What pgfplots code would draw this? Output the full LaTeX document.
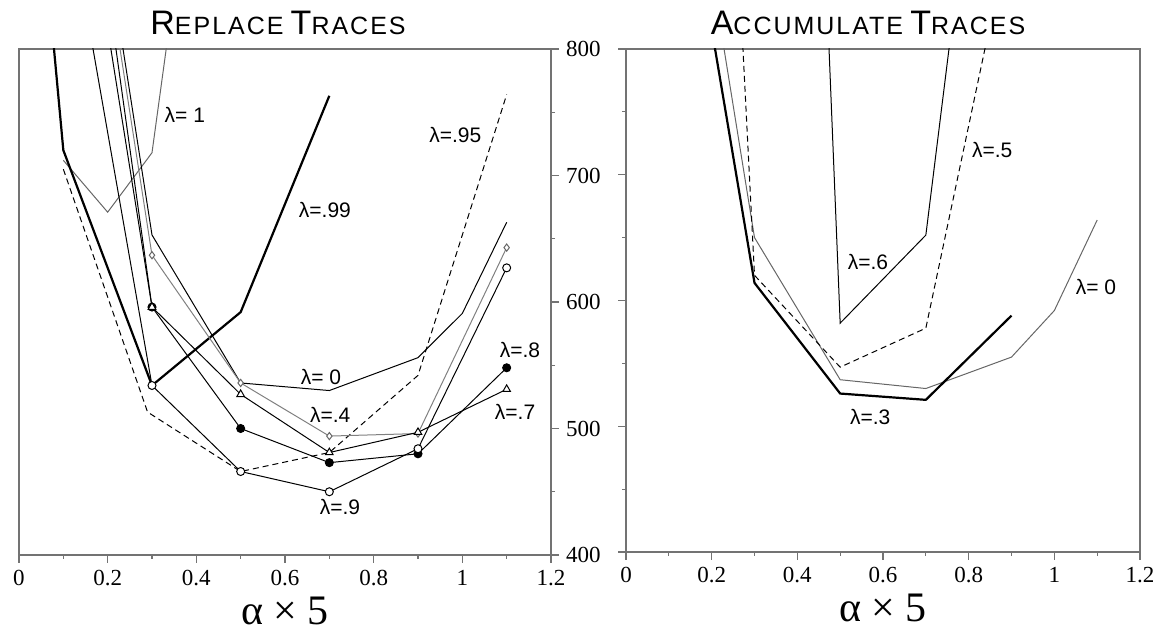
\documentclass[border=0pt]{standalone}
\usepackage{fontspec}
\setmainfont{Liberation Serif}
\newfontfamily\lsans{Liberation Sans}
\newfontfamily\tsans[LetterSpace=8]{Liberation Sans}
\usepackage{pgfplots}
\pgfplotsset{compat=1.18}

% small caps by hand: big first letter, smaller rest
\newcommand{\sct}[2]{{\fontsize{17}{17}\selectfont #1}{\fontsize{12.5}{12.5}\selectfont #2}}

\tikzset{
  lab/.style={font=\lsans\fontsize{10.5}{11}\selectfont, inner sep=0pt},
  trline/.style={black, line width=0.5pt},
}

\pgfplotsset{
  trace axis/.style={
    scale only axis,
    anchor=south west,
    xmin=0, xmax=1.2, ymin=400, ymax=800,
    xtick={0,0.2,0.4,0.6,0.8,1,1.2},
    ytick={400,500,600,700,800},
    minor x tick num=1, minor y tick num=1,
    tick align=outside,
    major tick length=4pt, minor tick length=2pt,
    axis line style={black!55, line width=0.6pt},
    every tick/.style={black!55, line width=0.6pt},
    /pgf/number format/assume math mode=true,
    ticklabel style={font=\fontsize{11.5}{12}\selectfont},
    xlabel={α × 5},
    xlabel style={at={(0.5,0)}, anchor=base, yshift=-35pt, inner sep=0pt,
      font=\fontsize{21}{21}\selectfont},
    every axis title shift=0pt,
    title style={at={(0.5,1)}, anchor=base, yshift=7pt, font=\tsans},
    xtick pos=left,
  },
}

\begin{document}
\begin{tikzpicture}
\path[use as bounding box] (-9.5pt,-40.5pt) rectangle (574pt,277.5pt);

% ---------- replace traces ----------
\begin{axis}[trace axis, at={(0pt,0pt)}, width=266pt, height=253pt,
  ytick pos=right, yticklabel pos=right,
  title={\sct{R}{EPLACE} \sct{T}{RACES}},
  title style={xshift=-3.5pt}]

% lambda = 1
\addplot[black!60, line width=0.5pt] coordinates {
  (0.1,712) (0.2,671) (0.3,718) (0.4,974)};
% lambda = .99
\addplot[black, line width=1.1pt] coordinates {
  (0.05,910) (0.1,720) (0.3,534) (0.5,592) (0.7,763)};
% lambda = .95
\addplot[black, line width=0.5pt, dash pattern=on 3pt off 2pt] coordinates {
  (0.1,705) (0.29,513) (0.5,466) (0.7,481) (0.9,542) (1.1,764)};
% lambda = 0
\addplot[trline] coordinates {
  (0.2,878) (0.3,653) (0.5,536) (0.7,530) (0.9,556) (1.0,591) (1.1,663)};
% lambda = .4
\addplot[black!50, line width=0.5pt, mark=diamond*, mark size=1.8pt,
  mark options={fill=white, draw=black!60}] coordinates {
  (0.2,863) (0.3,637) (0.5,536) (0.7,494) (0.9,496) (1.1,643)};
% lambda = .8
\addplot[trline, mark=*, mark size=2pt,
  mark options={fill=black}] coordinates {
  (0.2,816) (0.3,596) (0.5,500) (0.7,473) (0.9,480) (1.1,548)};
% lambda = .7
\addplot[trline, mark=triangle*, mark size=2.2pt,
  mark options={fill=white, draw=black}] coordinates {
  (0.2,847) (0.3,596) (0.5,527) (0.7,481) (0.9,497) (1.1,531)};
% lambda = .9
\addplot[trline, mark=*, mark size=2pt,
  mark options={fill=white, draw=black}] coordinates {
  (0.1,934) (0.3,534) (0.5,466) (0.7,450) (0.9,484) (1.1,627)};

\node[lab] at (axis cs:0.374,748) {λ= 1};
\node[lab] at (axis cs:0.690,673) {λ=.99};
\node[lab] at (axis cs:0.984,732) {λ=.95};
\node[lab] at (axis cs:0.681,541) {λ= 0};
\node[lab] at (axis cs:0.702,511) {λ=.4};
\node[lab] at (axis cs:0.724,438) {λ=.9};
\node[lab] at (axis cs:1.130,562) {λ=.8};
\node[lab] at (axis cs:1.119,513) {λ=.7};
\end{axis}

% ---------- accumulate traces ----------
\begin{axis}[trace axis, at={(303.5pt,1.5pt)}, width=257pt, height=251.5pt,
  ytick pos=left, yticklabels={,,,,},
  title={\sct{A}{CCUMULATE} \sct{T}{RACES}},
  title style={xshift=-7.5pt}]

% lambda = 0
\addplot[black!60, line width=0.5pt] coordinates {
  (0.2,861) (0.3,650) (0.5,537) (0.7,530) (0.9,555) (1.0,592) (1.1,664)};
% lambda = .3
\addplot[black, line width=1.1pt] coordinates {
  (0.2,816) (0.3,614) (0.5,526) (0.7,521) (0.9,588)};
% lambda = .5
\addplot[black, line width=0.5pt, dash pattern=on 3pt off 2pt] coordinates {
  (0.2,1287) (0.3,620) (0.5,547) (0.7,578) (0.9,900)};
% lambda = .6
\addplot[trline] coordinates {
  (0.3,2259) (0.5,582) (0.7,652) (0.9,1200)};

\node[lab] at (axis cs:0.565,631) {λ=.6};
\node[lab] at (axis cs:0.855,720) {λ=.5};
\node[lab] at (axis cs:1.097,611) {λ= 0};
\node[lab] at (axis cs:0.570,507) {λ=.3};
\end{axis}
\end{tikzpicture}
\end{document}
